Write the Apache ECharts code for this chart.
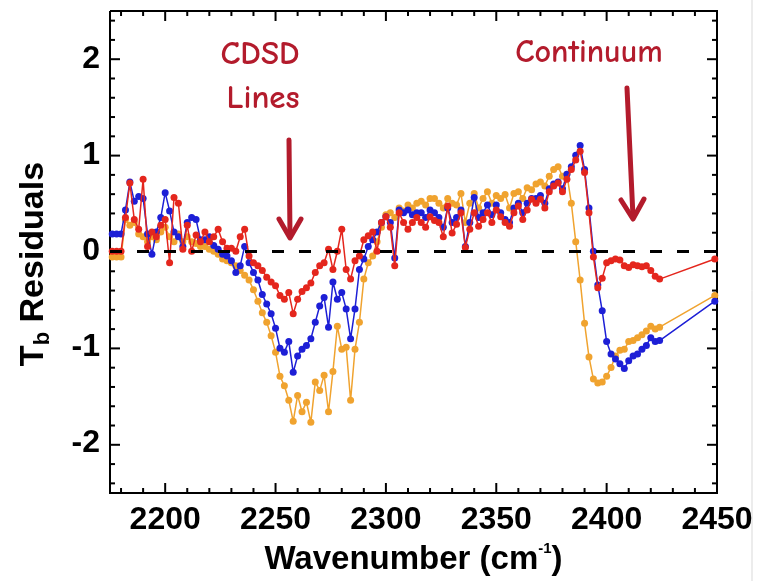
<!DOCTYPE html>
<html>
<head>
<meta charset="utf-8">
<script src="https://cdn.jsdelivr.net/npm/echarts@6/dist/echarts.min.js"></script>
<style>
html,body{margin:0;padding:0;background:#fff;}
#chart{width:762px;height:581px;}
</style>
</head>
<body>
<div id="chart"></div>
<script>
// ---- Data ----
const wavenumber = [
 2176,2178,2180,2182,2184,2186,2188,2190,2192,2194,2196,2198,
 2200,2202,2204,2206,2208,2210,2212,2214,2216,2218,2220,2222,2224,2226,2228,2230,2232,2234,2236,2238,
 2240,2242,2244,2246,2248,2250,2252,2254,2256,2258,2260,2262,2264,2266,2268,2270,2272,2274,2276,2278,
 2280,2282,2284,2286,2288,2290,2292,2294,2296,2298,
 2300,2302,2304,2306,2308,2310,2312,2314,2316,2318,2320,2322,2324,2326,2328,2330,2332,2334,2336,2338,
 2340,2342,2344,2346,2348,2350,2352,2354,2356,2358,2360,2362,2364,2366,2368,2370,2372,2374,2376,2378,
 2380,2382,2384,2386,2388,2390,2392,2394,2396,2398,
 2400,2402,2404,2406,2408,2410,2412,2414,2416,2418,2420,2422,2424,
 2449
];
const orangeResiduals = [
 -0.06,-0.06,-0.06,0.33,0.27,0.30,0.18,0.15,0.10,0.15,0.12,0.20,
 0.25,0.15,0.10,0.18,0.10,0.15,0.10,0.08,0.05,0.05,0.02,0.00,-0.03,-0.08,-0.10,-0.12,-0.15,-0.20,-0.25,-0.30,
 -0.40,-0.52,-0.64,-0.74,-0.88,-1.05,-1.30,-1.40,-1.55,-1.77,-1.50,-1.67,-1.57,-1.78,-1.36,-1.45,-1.29,-1.67,-1.25,-0.78,
 -1.02,-1.00,-1.55,-1.02,-0.74,-0.29,-0.12,-0.05,0.10,0.25,
 0.38,0.40,0.35,0.45,0.42,0.48,0.45,0.50,0.52,0.48,0.55,0.55,0.50,0.45,0.55,0.50,0.48,0.60,0.30,0.50,
 0.60,0.45,0.55,0.62,0.50,0.58,0.55,0.59,0.45,0.60,0.62,0.55,0.66,0.64,0.70,0.72,0.68,0.78,0.85,0.88,
 0.78,0.80,0.50,0.10,-0.30,-0.75,-1.10,-1.33,-1.37,-1.36,
 -1.30,-1.21,-1.09,-1.03,-1.02,-0.94,-0.93,-0.90,-0.87,-0.83,-0.78,-0.81,-0.79,
 -0.46
];
const blueResiduals = [
 0.18,0.18,0.18,0.43,0.72,0.52,0.57,0.55,0.18,-0.03,0.20,0.35,
 0.61,0.42,0.20,0.15,0.05,0.30,0.35,0.33,0.12,0.12,0.15,0.06,0.02,-0.03,-0.05,-0.10,-0.22,-0.15,0.05,-0.12,
 -0.22,-0.30,-0.45,-0.55,-0.65,-0.80,-1.01,-1.05,-0.94,-1.26,-1.09,-1.02,-0.98,-0.91,-0.74,-0.57,-0.48,-0.79,-0.32,-0.50,
 -0.43,-0.60,-0.91,-0.60,-0.19,-0.08,0.05,0.12,0.20,0.30,
 0.36,0.30,-0.07,0.43,0.40,0.43,0.38,0.40,0.40,0.35,0.43,0.40,0.35,0.25,0.45,0.30,0.35,0.43,0.05,0.30,
 0.56,0.35,0.40,0.48,0.38,0.48,0.40,0.33,0.30,0.45,0.50,0.40,0.50,0.55,0.55,0.58,0.50,0.65,0.70,0.72,
 0.65,0.80,0.88,1.00,1.10,0.85,0.45,0.00,-0.35,-0.62,
 -0.94,-1.07,-1.12,-1.17,-1.22,-1.14,-1.09,-1.07,-1.02,-0.98,-0.90,-0.94,-0.93,
 -0.52
];
const redResiduals = [
 0.00,0.00,0.00,0.35,0.71,0.33,0.23,0.75,0.05,0.20,0.15,0.27,
 0.33,-0.12,0.56,0.50,0.02,0.27,0.00,0.17,0.10,0.20,0.10,0.15,0.23,0.10,0.03,0.03,0.00,0.15,0.23,-0.05,
 -0.12,-0.15,-0.20,-0.27,-0.32,-0.36,-0.46,-0.50,-0.43,-0.65,-0.50,-0.42,-0.38,-0.33,-0.22,-0.15,-0.12,0.02,-0.19,0.00,
 0.23,-0.19,-0.29,-0.10,-0.05,0.12,0.16,0.20,0.00,0.30,
 0.36,0.25,-0.15,0.40,0.30,0.23,0.30,0.35,0.30,0.25,0.36,0.32,0.30,0.15,0.47,0.19,0.28,0.40,0.04,0.23,
 0.40,0.26,0.33,0.40,0.30,0.43,0.36,0.30,0.26,0.40,0.47,0.33,0.43,0.54,0.50,0.54,0.45,0.62,0.68,0.71,
 0.62,0.75,0.85,0.95,1.04,0.82,0.40,-0.06,-0.38,-0.28,
 -0.12,-0.10,-0.08,-0.09,-0.15,-0.17,-0.14,-0.15,-0.16,-0.15,-0.20,-0.26,-0.29,
 -0.08
];
const xMajorTicks = [2200, 2250, 2300, 2350, 2400, 2450];
const xMinorTicks = [2180,2190,2210,2220,2230,2240,2260,2270,2280,2290,2310,2320,2330,2340,2360,2370,2380,2390,2410,2420,2430,2440];
const yMajorTicks = [-2, -1, 0, 1, 2];
const yMinorTicks = [-2.4,-2.2,-1.8,-1.6,-1.4,-1.2,-0.8,-0.6,-0.4,-0.2,0.2,0.4,0.6,0.8,1.2,1.4,1.6,1.8,2.2,2.4];
const xRange = [2175, 2450];
const yRange = [-2.5, 2.5];

// ---- Layout ----
const W = 762, H = 581;
const GL = 110, GR = 45, GT = 11, GB = 88;
const FONT = '"Liberation Sans", Arial, Helvetica, sans-serif';
const NOTE_FONT = '"Comic Sans MS", "Comic Neue", "DejaVu Sans", sans-serif';
const NOTE_COLOR = '#b31b2c';

function pairs(ys) { return wavenumber.map((x, i) => [x, ys[i]]); }

function lineSeries(name, ys, color, z) {
  return {
    name: name, type: 'line', data: pairs(ys),
    symbol: 'circle', symbolSize: 7, showSymbol: true, z: z,
    itemStyle: { color: color },
    lineStyle: { color: color, width: 1.5 },
    animation: false, clip: true
  };
}

const redSeries = lineSeries('red', redResiduals, '#e4261d', 4);
redSeries.markLine = {
  silent: true, symbol: ['none', 'none'], animation: false,
  label: { show: false },
  lineStyle: { color: '#000', width: 3, type: [12, 15] },
  data: [{ yAxis: 0 }]
};

// Frame ticks (inward, all four sides), same linear mapping as the grid's value axes.
function xPix(v) { return GL + (v - xRange[0]) / (xRange[1] - xRange[0]) * (W - GL - GR); }
function yPix(v) { return GT + (yRange[1] - v) / (yRange[1] - yRange[0]) * (H - GT - GB); }
function tickEl(pts) {
  return { type: 'polyline', silent: true, shape: { points: pts },
    style: { stroke: '#000', lineWidth: 2, lineCap: 'butt', lineJoin: 'miter', fill: null } };
}
const tickEls = [];
function addXTicks(vals, len) {
  vals.forEach(v => {
    const px = xPix(v), yb = H - GB, yt = GT;
    tickEls.push(tickEl([[px, yb], [px, yb - len]]));
    tickEls.push(tickEl([[px, yt], [px, yt + len]]));
  });
}
function addYTicks(vals, len) {
  vals.forEach(v => {
    const py = yPix(v), xl = GL, xr = W - GR;
    tickEls.push(tickEl([[xl, py], [xl + len, py]]));
    tickEls.push(tickEl([[xr, py], [xr - len, py]]));
  });
}
addXTicks(xMajorTicks, 10);
addXTicks(xMinorTicks, 5);
addYTicks(yMajorTicks, 10);
addYTicks(yMinorTicks, 5);

const noteArrow = pts => ({ type: 'polyline', silent: true, shape: { points: pts },
  style: { stroke: NOTE_COLOR, lineWidth: 5, lineCap: 'round', lineJoin: 'round', fill: null } });

const baseGraphic = [
  { type: 'line', shape: { x1: 752, y1: 0, x2: 752, y2: 581 },
    style: { stroke: '#d9d9d9', lineWidth: 1 }, silent: true },
  // plot frame
  { type: 'polyline', silent: true,
    shape: { points: [[GL, GT], [W - GR, GT], [W - GR, H - GB], [GL, H - GB], [GL, GT]] },
    style: { stroke: '#000', lineWidth: 2, lineJoin: 'miter', fill: null } },
  { type: 'text', x: 34, y: 264, rotation: Math.PI / 2, silent: true,
    style: {
      text: '{t|T}{s|b}{t| Residuals}', align: 'center', verticalAlign: 'middle',
      rich: {
        t: { fontFamily: FONT, fontWeight: 'bold', fontSize: 34, fill: '#000', lineHeight: 40 },
        s: { fontFamily: FONT, fontWeight: 'bold', fontSize: 22, fill: '#000', lineHeight: 40, verticalAlign: 'bottom' }
      }
    } },
  { type: 'text', x: 260, y: 55, silent: true,
    style: { text: 'CDSD', fontFamily: NOTE_FONT, fontWeight: 'bold', fontSize: 33, fill: NOTE_COLOR, align: 'center', verticalAlign: 'middle' } },
  { type: 'text', x: 263, y: 99, silent: true,
    style: { text: 'Lines', fontFamily: NOTE_FONT, fontWeight: 'bold', fontSize: 33, fill: NOTE_COLOR, align: 'center', verticalAlign: 'middle' } },
  { type: 'text', x: 589, y: 53, silent: true,
    style: { text: 'Continuum', fontFamily: NOTE_FONT, fontWeight: 'bold', fontSize: 32, fill: NOTE_COLOR, align: 'center', verticalAlign: 'middle' } },
  noteArrow([[289, 140], [290, 236]]),
  noteArrow([[279, 219], [290, 238], [301, 219]]),
  noteArrow([[627, 88], [633, 217]]),
  noteArrow([[621, 200], [633, 219], [644, 199]])
];

const option = {
  animation: false,
  backgroundColor: '#fff',
  grid: { left: GL, right: GR, top: GT, bottom: GB, show: false },
  xAxis: {
    type: 'value', min: xRange[0], max: xRange[1],
    axisLine: { show: false, onZero: false },
    axisTick: { show: false },
    splitLine: { show: false },
    axisLabel: { show: true, customValues: xMajorTicks, margin: 13, color: '#000',
      fontFamily: FONT, fontWeight: 'bold', fontSize: 32, formatter: v => String(v) },
    name: '{a|Wavenumber (cm}{s|-1}{a|)}',
    nameLocation: 'middle', nameGap: 50,
    nameTextStyle: {
      rich: {
        a: { fontFamily: FONT, fontWeight: 'bold', fontSize: 33, color: '#000', lineHeight: 36 },
        s: { fontFamily: FONT, fontWeight: 'bold', fontSize: 15, color: '#000', verticalAlign: 'top', lineHeight: 36 }
      }
    }
  },
  yAxis: {
    type: 'value', min: yRange[0], max: yRange[1],
    axisLine: { show: false, onZero: false },
    axisTick: { show: false },
    splitLine: { show: false },
    axisLabel: { show: true, customValues: yMajorTicks, margin: 10, color: '#000',
      fontFamily: FONT, fontWeight: 'bold', fontSize: 32, formatter: v => String(v) }
  },
  series: [
    lineSeries('orange', orangeResiduals, '#f0a32f', 2),
    lineSeries('blue', blueResiduals, '#1d1fd6', 3),
    redSeries
  ],
  graphic: { elements: baseGraphic.concat(tickEls) }
};

const chart = echarts.init(document.getElementById('chart'), null, { renderer: 'canvas' });
chart.setOption(option);
</script>
</body>
</html>
